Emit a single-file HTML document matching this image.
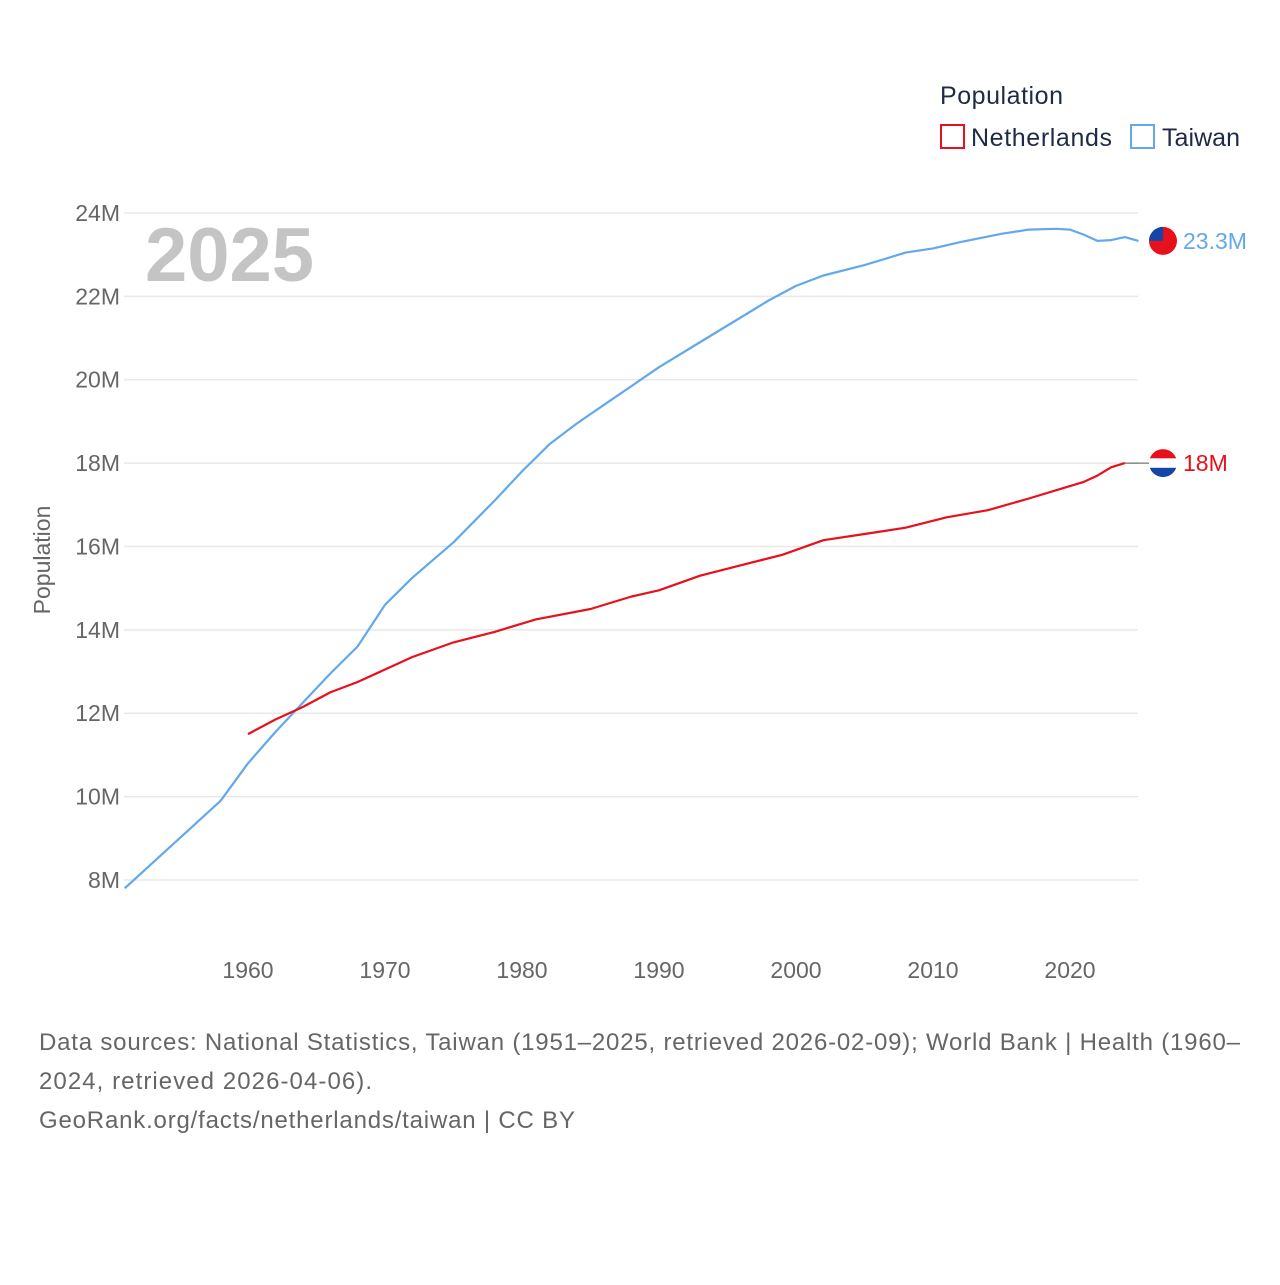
<!DOCTYPE html>
<html><head><meta charset="utf-8"><style>
body{margin:0;background:#fff;font-family:"Liberation Sans",sans-serif}
svg text{font-family:"Liberation Sans",sans-serif}
</style></head><body>
<svg width="1280" height="1280" xmlns="http://www.w3.org/2000/svg">
<g id="grid"></g>
<g id="yticks"></g>
<g id="xticks"></g>
<text x="145" y="281" font-size="76" font-weight="bold" fill="#c4c4c4" textLength="169">2025</text>
<text transform="translate(50,560) rotate(-90)" text-anchor="middle" font-size="23" fill="#666">Population</text>
<g id="series"></g>
<g>
<text x="940" y="104" font-size="25" fill="#1f2a44" textLength="123">Population</text>
<rect x="941" y="125" width="23" height="23" fill="none" stroke="#e8101b" stroke-width="2"/>
<text x="971" y="146" font-size="25" fill="#1f2a44" textLength="141">Netherlands</text>
<rect x="1131" y="125" width="23" height="23" fill="none" stroke="#62a8ea" stroke-width="2"/>
<text x="1162" y="146" font-size="25" fill="#1f2a44" textLength="78">Taiwan</text>
</g>
<g font-size="24" fill="#666">
<text x="39" y="1050" textLength="1201">Data sources: National Statistics, Taiwan (1951–2025, retrieved 2026-02-09); World Bank | Health (1960–</text>
<text x="39" y="1089" textLength="333">2024, retrieved 2026-04-06).</text>
<text x="39" y="1128" textLength="536">GeoRank.org/facts/netherlands/taiwan | CC BY</text>
</g>
</svg>
<script>
const twYears=[1951,1953,1955,1958,1960,1962,1964,1966,1968,1970,1972,1975,1978,1980,1982,1984,1986,1988,1990,1992,1995,1998,2000,2002,2005,2008,2010,2012,2015,2017,2019,2020,2021,2022,2023,2024,2025];
const twValues=[7.8,8.4,9.0,9.9,10.8,11.55,12.25,12.95,13.6,14.6,15.25,16.1,17.1,17.8,18.45,18.95,19.4,19.85,20.3,20.7,21.3,21.9,22.25,22.5,22.75,23.05,23.15,23.3,23.5,23.6,23.62,23.6,23.48,23.33,23.35,23.42,23.33];
const nlYears=[1960,1962,1964,1966,1968,1970,1972,1975,1978,1981,1985,1988,1990,1993,1996,1999,2002,2005,2008,2011,2014,2017,2019,2021,2022,2023,2024];
const nlValues=[11.5,11.85,12.15,12.5,12.75,13.05,13.35,13.7,13.95,14.25,14.5,14.8,14.95,15.3,15.55,15.8,16.15,16.3,16.45,16.7,16.87,17.15,17.35,17.55,17.7,17.9,18.0];
const yTicks=[8,10,12,14,16,18,20,22,24];
const xTicks=[1960,1970,1980,1990,2000,2010,2020];
const NS='http://www.w3.org/2000/svg';
const X=yr=>248+(yr-1960)*13.7;
const Y=v=>880-(v-8)*41.69;
function mk(tag,attrs,parent,text){const e=document.createElementNS(NS,tag);for(const k in attrs)e.setAttribute(k,attrs[k]);if(text!==undefined)e.textContent=text;parent.appendChild(e);return e;}
const grid=document.getElementById('grid'),yt=document.getElementById('yticks'),xt=document.getElementById('xticks'),ser=document.getElementById('series');
yTicks.forEach(v=>{
 const l=mk('line',{x1:124,x2:1138,y1:Y(v),y2:Y(v),stroke:'#e8e8e8','stroke-width':1.5},grid);
 
 
 const t=mk('text',{x:120,y:Y(v)+8,'text-anchor':'end','font-size':23,fill:'#666'},yt,v+'M');
 
 
});
xTicks.forEach(yr=>{
 const t=mk('text',{x:X(yr),y:978,'text-anchor':'middle','font-size':23,fill:'#666'},xt,yr);
 
 
});
function line(ys,vs,color,name){
 const d=ys.map((y,i)=>(i?'L':'M')+X(y).toFixed(1)+','+Y(vs[i]).toFixed(1)).join('');
 const p=mk('path',{d:d,fill:'none',stroke:color,'stroke-width':2.2,'stroke-linejoin':'round'},ser);
 
 
}
line(twYears,twValues,'#62a8ea','taiwan-line');
line(nlYears,nlValues,'#e8101b','netherlands-line');
const tv=twValues[twValues.length-1],nv=nlValues[nlValues.length-1];
const ty=Y(tv);
const c1=mk('circle',{cx:1163,cy:ty,r:14,fill:'#e8101b'},ser);


const r1=mk('path',{d:`M1149,${ty} A14,14 0 0 1 1163,${ty-14} L1163,${ty} Z`,fill:'#1346a8'},ser);


const t1=mk('text',{x:1183,y:ty+8,'font-size':23,fill:'#62a8ea'},ser,tv.toFixed(1)+'M');


const ny=Y(nv);
const cn=mk('line',{x1:X(nlYears[nlYears.length-1]),x2:1149,y1:ny,y2:ny,stroke:'#555','stroke-width':1},ser);


const g=mk('g',{},ser);


mk('clipPath',{id:'cf'},g);
mk('circle',{cx:1163,cy:ny,r:14},g.lastChild);
mk('rect',{x:1149,y:ny-14,width:28,height:9.3,fill:'#e8101b','clip-path':'url(#cf)'},g);
mk('rect',{x:1149,y:ny-4.7,width:28,height:9.4,fill:'#fff','clip-path':'url(#cf)'},g);
mk('rect',{x:1149,y:ny+4.7,width:28,height:9.3,fill:'#1346a8','clip-path':'url(#cf)'},g);
const t2=mk('text',{x:1183,y:ny+8,'font-size':23,fill:'#e8101b'},ser,nv+'M');


</script>
</body></html>
